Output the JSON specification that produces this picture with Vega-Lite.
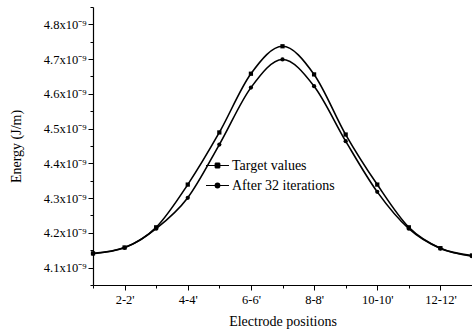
{
  "$schema": "https://vega.github.io/schema/vega-lite/v6.json",
  "width": 379,
  "height": 278,
  "autosize": {"type": "none"},
  "padding": {"left": 93, "top": 7, "right": 0, "bottom": 48},
  "background": "white",
  "config": {
    "view": {"stroke": null},
    "font": "Liberation Serif",
    "axis": {"grid": false, "domainColor": "black", "tickColor": "black", "labelColor": "black", "titleColor": "black", "labelFont": "Liberation Serif", "titleFont": "Liberation Serif", "labelFontSize": 12.5, "titleFontSize": 14, "titleFontWeight": "normal", "domainWidth": 1.2, "tickWidth": 1}
  },
  "data": {
    "values": [
      {"pos": 1, "series": "Target values", "energy": 4.141},
      {"pos": 2, "series": "Target values", "energy": 4.158},
      {"pos": 3, "series": "Target values", "energy": 4.216},
      {"pos": 4, "series": "Target values", "energy": 4.339},
      {"pos": 5, "series": "Target values", "energy": 4.489},
      {"pos": 6, "series": "Target values", "energy": 4.658},
      {"pos": 7, "series": "Target values", "energy": 4.737},
      {"pos": 8, "series": "Target values", "energy": 4.656},
      {"pos": 9, "series": "Target values", "energy": 4.483},
      {"pos": 10, "series": "Target values", "energy": 4.339},
      {"pos": 11, "series": "Target values", "energy": 4.216},
      {"pos": 12, "series": "Target values", "energy": 4.156},
      {"pos": 13, "series": "Target values", "energy": 4.135},
      {"pos": 1, "series": "After 32 iterations", "energy": 4.140},
      {"pos": 2, "series": "After 32 iterations", "energy": 4.157},
      {"pos": 3, "series": "After 32 iterations", "energy": 4.212},
      {"pos": 4, "series": "After 32 iterations", "energy": 4.301},
      {"pos": 5, "series": "After 32 iterations", "energy": 4.454},
      {"pos": 6, "series": "After 32 iterations", "energy": 4.618},
      {"pos": 7, "series": "After 32 iterations", "energy": 4.699},
      {"pos": 8, "series": "After 32 iterations", "energy": 4.622},
      {"pos": 9, "series": "After 32 iterations", "energy": 4.464},
      {"pos": 10, "series": "After 32 iterations", "energy": 4.318},
      {"pos": 11, "series": "After 32 iterations", "energy": 4.212},
      {"pos": 12, "series": "After 32 iterations", "energy": 4.155},
      {"pos": 13, "series": "After 32 iterations", "energy": 4.133}
    ]
  },
  "encoding": {
    "x": {
      "field": "pos", "type": "quantitative",
      "scale": {"domain": [1, 13], "nice": false, "zero": false},
      "axis": {
        "title": "Electrode positions",
        "values": [1,2,3,4,5,6,7,8,9,10,11,12,13],
        "labelExpr": "datum.value % 2 == 0 ? datum.value + '-' + datum.value + \"'\" : ''",
        "tickSize": {"condition": {"test": "datum.value % 2 == 0", "value": 5}, "value": 3},
        "labelPadding": 3,
        "titlePadding": 9
      }
    },
    "y": {
      "field": "energy", "type": "quantitative",
      "scale": {"domain": [4.05, 4.85], "nice": false, "zero": false},
      "axis": {
        "title": "Energy (J/m)",
        "values": [4.05,4.1,4.15,4.2,4.25,4.3,4.35,4.4,4.45,4.5,4.55,4.6,4.65,4.7,4.75,4.8,4.85],
        "labelExpr": "abs(datum.value*10 - round(datum.value*10)) < 0.01 ? format(datum.value, '.1f') + 'x10⁻⁹' : ''",
        "tickSize": {"condition": {"test": "abs(datum.value*10 - round(datum.value*10)) < 0.01", "value": 5}, "value": 3},
        "labelPadding": 2,
        "titlePadding": 20
      }
    }
  },
  "layer": [
    {
      "mark": {"type": "line", "interpolate": "monotone", "color": "black", "strokeWidth": 1.6},
      "encoding": {"detail": {"field": "series"}}
    },
    {
      "mark": {"type": "point", "filled": true, "color": "black", "size": 18, "opacity": 1},
      "encoding": {
        "shape": {
          "field": "series", "type": "nominal",
          "scale": {"domain": ["Target values", "After 32 iterations"], "range": ["square", "circle"]},
          "legend": null
        }
      }
    },
    {
      "mark": {"type": "point", "filled": false, "color": "black", "strokeWidth": 1, "opacity": 1},
      "encoding": {
        "size": {"value": 0},
        "shape": {
          "field": "series", "type": "nominal",
          "scale": {"domain": ["Target values", "After 32 iterations"], "range": [
            "M-1,0H1M-0.2,-0.2H0.2M-0.2,-0.1H0.2M-0.2,0.1H0.2M-0.2,0.2H0.2M-0.2,-0.2V0.2M0.2,-0.2V0.2M0,-0.2V0.2",
            "M-1,0H1M-0.173,-0.1H0.173M-0.173,0.1H0.173M-0.132,-0.15H0.132M-0.132,0.15H0.132M-0.194,-0.05H0.194M-0.194,0.05H0.194M0,-0.2V0.2M-0.2,0A0.2,0.2 0 1,0 0.2,0A0.2,0.2 0 1,0 -0.2,0"
          ]},
          "legend": {
            "title": null,
            "orient": "none",
            "legendX": 112,
            "legendY": 146,
            "padding": 0,
            "rowPadding": -10,
            "symbolOpacity": 1,
            "symbolStrokeColor": "black",
            "symbolStrokeWidth": 1.2,
            "symbolSize": 529,
            "labelFont": "Liberation Serif",
            "labelFontSize": 14,
            "labelColor": "black",
            "labelOffset": 2
          }
        }
      }
    }
  ],
  "resolve": {"scale": {"shape": "independent"}, "legend": {"shape": "independent"}}
}
